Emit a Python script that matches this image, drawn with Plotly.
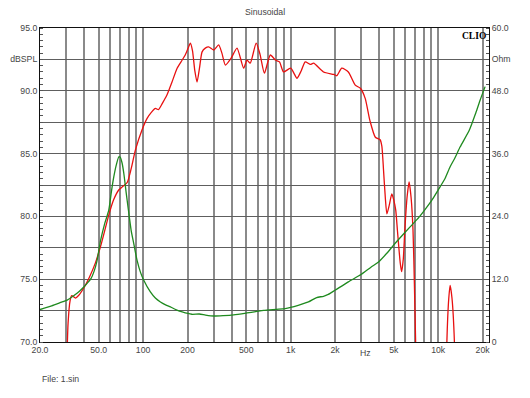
import math
import plotly.graph_objects as go

# ---- data ----
spl_freq = [30.2, 31.0, 32.0, 32.8, 34.8, 36.5, 39.6, 43, 47.5, 52, 58.5, 63, 68.3, 73, 78, 83, 88.7, 98.4,
            106.4, 114, 121, 127, 135, 145, 157, 170, 184, 193, 202, 209, 216, 224, 232, 241, 251, 264, 278,
            301, 325, 342, 361, 395, 433, 480, 506, 532, 584, 620, 664, 728, 788, 840, 895, 1000, 1104,
            1180, 1255, 1361, 1430, 1670, 1960, 2055, 2220, 2460, 2740, 2970, 3200, 3450, 3750, 4040,
            4150, 4260, 4380, 4490, 4660, 4850, 5000, 5155, 5300, 5530, 5650, 5800, 5940, 6150, 6350,
            6550, 6750, 6900, 7030, 7200, 11200, 11450, 11800, 12050, 12400, 12880, 13200]
spl_db = [67.0, 71.5, 73.3, 73.7, 73.5, 73.7, 74.3, 75.1, 76.3, 77.8, 80.1, 81.3, 82.1, 82.4, 82.7, 83.8, 85.3, 86.9,
          87.8, 88.3, 88.6, 88.5, 89.0, 89.66, 90.7, 91.8, 92.45, 92.85, 93.4, 93.8, 93.2, 91.6, 90.7, 91.8, 93.1, 93.4, 93.5,
          93.25, 93.65, 93.0, 92.05, 92.6, 93.4, 91.8, 92.45, 92.2, 93.8, 92.9, 91.4, 92.85, 92.45, 92.3, 91.5, 91.8, 91.0,
          91.6, 92.3, 92.1, 92.2, 91.5, 91.3, 91.2, 91.8, 91.5, 90.45, 90.2, 89.4, 87.6, 86.3, 86.1,
          85.6, 83.7, 81.5, 80.2, 80.9, 81.8, 81.3, 80.5, 78.8, 76.3, 75.6, 76.6, 78.9, 81.5, 82.75,
          81.5, 78.9, 74.5, 70.1, 64.0, 62.0, 70.0, 73.5, 74.5, 73.5, 70.0, 62.0]

imp_freq = [20, 24, 28, 30.6, 34, 37, 39.6, 42, 44.3, 46.5, 48.5, 51.5, 55, 58.5, 61, 63.3, 66, 68.5, 70, 72, 74,
            77, 80, 83, 86.4, 91, 96, 101, 112, 121, 131, 142, 153, 168, 184, 214, 240, 265, 301, 350, 411,
            506, 580, 656, 800, 918, 1000, 1125, 1320, 1500, 1670, 1800, 2000, 2460, 3000, 3500, 3940, 4500,
            4980, 5600, 6450, 7400, 8400, 9300, 10300, 11150, 12050, 13000, 14100, 16270, 18000, 19230, 20800]
imp_ohm = [6.2, 6.9, 7.6, 8.0, 8.9, 9.7, 10.5, 11.3, 12.1, 13.5, 15.3, 19.4, 22.7, 25.2, 28.8, 31.6, 34.0, 35.4, 35.3, 34.2, 32.2,
           28.2, 24.6, 21.3, 18.8, 15.6, 13.3, 11.8, 9.56, 8.4, 7.65, 7.1, 6.7, 6.15, 5.74, 5.3, 5.35, 5.15, 4.97, 5.05, 5.2,
           5.55, 5.8, 6.06, 6.25, 6.39, 6.6, 7.0, 7.65, 8.5, 8.74, 9.1, 9.9, 11.5, 12.9, 14.3, 15.3, 17.0,
           18.5, 20.1, 22.0, 23.8, 25.8, 27.6, 29.65, 31.3, 33.5, 35.2, 37.3, 40.5, 43.8, 46.2, 48.8]

x_grid = [20, 30, 40, 50, 60, 70, 80, 90, 100, 200, 300, 400, 500, 600, 700, 800, 900,
          1000, 2000, 3000, 4000, 5000, 6000, 7000, 8000, 9000, 10000, 20000]
x_labels = {20: "20.0", 50: "50.0", 100: "100", 200: "200", 500: "500", 1000: "1k", 2000: "2k",
            5000: "5k", 10000: "10k", 20000: "20k"}
y_left_vals = [70, 72.5, 75, 77.5, 80, 82.5, 85, 87.5, 90, 92.5, 95]
y_left_text = ["70.0", "", "75.0", "", "80.0", "", "85.0", "", "90.0", "dBSPL", "95.0"]
y_right_vals = [0, 12, 24, 36, 48, 54, 60]
y_right_text = ["0", "12.0", "24.0", "36.0", "48.0", "Ohm", "60.0"]

FONT = "Liberation Sans, Arial, sans-serif"
TXT = "#454545"
FS = 8.7

fig = go.Figure()
fig.add_trace(go.Scatter(x=imp_freq, y=imp_ohm, yaxis="y2", mode="lines",
                         line=dict(color="#1f8a1f", width=1.3, shape="spline", smoothing=0.6),
                         showlegend=False, hoverinfo="skip"))
fig.add_trace(go.Scatter(x=spl_freq, y=spl_db, mode="lines",
                         line=dict(color="#e81010", width=1.3, shape="spline", smoothing=0.6),
                         showlegend=False, hoverinfo="skip"))

# the page body has an 8px default margin, so the figure is drawn 8px smaller
fig.update_layout(
    width=522, height=390,
    margin=dict(l=32, r=41, t=20, b=56, autoexpand=False),
    paper_bgcolor="white", plot_bgcolor="white",
    font=dict(family=FONT, size=FS, color=TXT),
    xaxis=dict(type="log", range=[math.log10(20), math.log10(22100)], automargin=False,
               tickmode="array", tickvals=x_grid,
               ticktext=[x_labels.get(v, "") for v in x_grid],
               showgrid=True, gridcolor="#8a8a8a", gridwidth=1.5,
               showline=True, linecolor="#111", linewidth=1, mirror=True,
               ticks="", zeroline=False, tickfont=dict(size=FS, color=TXT)),
    yaxis=dict(range=[70, 95], tickmode="array", tickvals=y_left_vals, ticktext=y_left_text,
               automargin=False,
               showgrid=True, gridcolor="#5e5e5e", gridwidth=1.2,
               showline=True, linecolor="#111", linewidth=1, mirror=True,
               ticks="", zeroline=False, tickfont=dict(size=FS, color=TXT),
               minor=dict(tickmode="linear", tick0=70, dtick=0.5, ticks="inside", ticklen=3,
                          tickcolor="#555", showgrid=False)),
    yaxis2=dict(range=[0, 60], overlaying="y", side="right", anchor="x", automargin=False,
                tickmode="array", tickvals=y_right_vals, ticktext=y_right_text,
                showgrid=False, zeroline=False, showline=True, linecolor="#111", linewidth=1,
                ticks="", tickfont=dict(size=FS, color=TXT),
                minor=dict(tickmode="linear", tick0=0, dtick=1.2, ticks="inside", ticklen=3,
                           tickcolor="#555", showgrid=False)),
    annotations=[
        dict(text="Sinusoidal", xref="paper", yref="paper", x=0.5, y=1, xanchor="center",
             yanchor="bottom", yshift=9, showarrow=False, font=dict(size=FS, color=TXT)),
        dict(text="Hz", xref="x", yref="paper", x=math.log10(3200), y=0, xanchor="center",
             yanchor="top", yshift=-4, showarrow=False, font=dict(size=FS, color=TXT)),
        dict(text="File: 1.sin", xref="paper", yref="paper", x=0, y=0, xanchor="left",
             yanchor="middle", yshift=-37, showarrow=False, font=dict(size=FS, color=TXT)),
        dict(text="<b>CLIO</b>", xref="paper", yref="paper", x=1, y=1, xanchor="right",
             yanchor="top", xshift=-1, yshift=-1, showarrow=False,
             font=dict(family="Liberation Serif, Times New Roman, serif", size=9.5, color="#000")),
    ],
)

fig.write_html("out.html")
